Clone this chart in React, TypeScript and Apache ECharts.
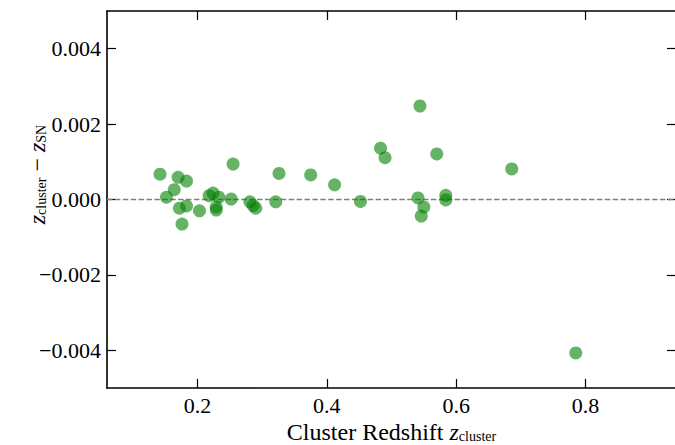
import React, { useEffect, useRef } from "react";
import * as echarts from "echarts";

const clusterZ = [
  0.142, 0.152, 0.164, 0.170, 0.172, 0.176, 0.183, 0.183, 0.203, 0.218,
  0.224, 0.233, 0.229, 0.229, 0.252, 0.255, 0.281, 0.286, 0.290, 0.321,
  0.326, 0.375, 0.412, 0.452, 0.483, 0.490, 0.541, 0.544, 0.546, 0.550,
  0.570, 0.584, 0.584, 0.686, 0.785,
];
const deltaZ = [
  0.00067, 0.00006, 0.00026, 0.00059, -0.00023, -0.00065, -0.00017, 0.00049, -0.00030, 0.00010,
  0.00017, 0.00006, -0.00020, -0.00028, 0.00001, 0.00094, -0.00006, -0.00016, -0.00023, -0.00006,
  0.00069, 0.00065, 0.00039, -0.00005, 0.00136, 0.00111, 0.00004, 0.00248, -0.00044, -0.00020,
  0.00121, 0.00011, -0.00001, 0.00081, -0.00407,
];
const xTicks = [0.2, 0.4, 0.6, 0.8];
const yTicks = [-0.004, -0.002, 0, 0.002, 0.004];

const FONT = "'Liberation Serif', 'Times New Roman', serif";

export default function App() {
  const ref = useRef<HTMLDivElement>(null);
  useEffect(() => {
    if (!ref.current) return;
    const chart = echarts.init(ref.current, undefined, { renderer: "svg" });
    const axisCommon = {
      axisLine: { show: true, onZero: false, lineStyle: { color: "#000", width: 1.6 } },
      axisTick: { show: true, inside: true, length: 9, lineStyle: { color: "#000", width: 1.2 } },
      splitLine: { show: false },
    };
    const fmtY = (v: number) => {
      const s = Math.abs(v).toFixed(3);
      return v < -1e-9 ? "\u2212" + s : s;
    };
    const labelStyle = {
      color: "#000",
      fontFamily: FONT,
      fontSize: 22,
    };
    const xRich = {
      n: { fontFamily: FONT, fontSize: 24, lineHeight: 24, color: "#000" },
      i: { fontFamily: FONT, fontStyle: "italic", fontSize: 24, lineHeight: 24, color: "#000" },
      s: { fontFamily: FONT, fontSize: 14, lineHeight: 14, color: "#000", padding: [8, 0, 0, 0] },
    };
    const yRich = {
      n: { fontFamily: FONT, fontSize: 24, lineHeight: 26, color: "#000" },
      i: { fontFamily: FONT, fontStyle: "italic", fontSize: 24, lineHeight: 26, color: "#000" },
      s: { fontFamily: FONT, fontSize: 14, lineHeight: 16, color: "#000", padding: [9, 0, 0, 0] },
    };
    chart.setOption({
      animation: false,
      backgroundColor: "#fff",
      textStyle: { fontFamily: FONT },
      grid: {
        left: 107,
        right: -1,
        top: 11,
        bottom: 57,
        containLabel: false,
        outerBoundsMode: "none",
      },
      xAxis: [
        {
          type: "value",
          min: 0.06,
          max: 0.94,
          position: "bottom",
          ...axisCommon,
          axisTick: { ...axisCommon.axisTick, customValues: xTicks },
          axisLabel: {
            customValues: xTicks,
            formatter: (v: number) => v.toFixed(1),
            ...labelStyle,
            margin: 6,
          },
          name: "{n|Cluster Redshift }{i|z}{s|cluster}",
          nameLocation: "middle",
          nameGap: 32,
          nameMoveOverlap: false,
          nameTextStyle: { fontFamily: FONT, rich: xRich },
        },
        {
          type: "value",
          min: 0.06,
          max: 0.94,
          position: "top",
          ...axisCommon,
          axisTick: { ...axisCommon.axisTick, customValues: xTicks },
          axisLabel: { show: false },
        },
      ],
      yAxis: [
        {
          type: "value",
          min: -0.005,
          max: 0.005,
          position: "left",
          ...axisCommon,
          axisTick: { ...axisCommon.axisTick, customValues: yTicks },
          axisLabel: {
            customValues: yTicks,
            formatter: fmtY,
            ...labelStyle,
            margin: 6,
          },
          name: "{i|z}{s|cluster}{n| \u2212 }{i|z}{s|SN}",
          nameLocation: "middle",
          nameRotate: 90,
          nameGap: 57,
          nameMoveOverlap: false,
          nameTextStyle: { fontFamily: FONT, rich: yRich, padding: [0, 0, 0, 50] },
        },
        {
          type: "value",
          min: -0.005,
          max: 0.005,
          position: "right",
          ...axisCommon,
          axisTick: { ...axisCommon.axisTick, customValues: yTicks },
          axisLabel: { show: false },
        },
      ],
      series: [
        {
          type: "line",
          data: [
            [0.06, 0],
            [0.94, 0],
          ],
          symbol: "none",
          silent: true,
          lineStyle: { color: "#808080", width: 1.5, type: [5.5, 2.4] },
          z: 1,
        },
        {
          type: "scatter",
          data: clusterZ.map((x, i) => [x, deltaZ[i]]),
          symbol: "circle",
          symbolSize: 13,
          itemStyle: { color: "green", opacity: 0.6, borderWidth: 0 },
          z: 2,
        },
      ],
    });
    return () => chart.dispose();
  }, []);
  return (
    <div
      ref={ref}
      style={{ position: "fixed", left: 0, top: 0, width: 675, height: 445, background: "#fff" }}
    />
  );
}
